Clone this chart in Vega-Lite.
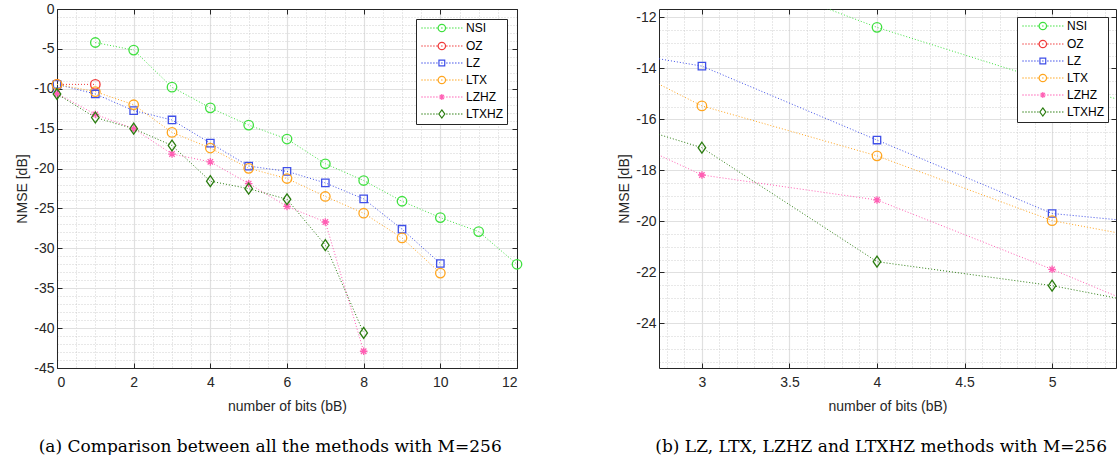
{
  "$schema": "https://vega.github.io/schema/vega-lite/v6.json",
  "padding": {"left": 15, "top": 2, "right": 0, "bottom": 0},
  "background": "white",
  "config": {
    "view": {"stroke": null},
    "font": "Liberation Sans",
    "axis": {"labelFont": "Liberation Sans", "titleFont": "Liberation Sans", "labelFontSize": 14, "titleFontSize": 14, "titleFontWeight": "normal", "labelColor": "#262626", "titleColor": "#262626", "domainColor": "#262626", "tickColor": "#262626"},
    "legend": {"title": null, "padding": 3, "strokeColor": "#262626", "fillColor": "white", "labelFontSize": 12, "labelFont": "Liberation Sans", "labelColor": "black", "symbolSize": 55, "symbolStrokeWidth": 1.2, "labelOffset": 35, "rowPadding": 4, "symbolOpacity": 1}
  },
  "datasets": {
    "d": [
      {"method": "NSI", "bits": 1, "nmse": -4.2},
      {"method": "NSI", "bits": 2, "nmse": -5.15},
      {"method": "NSI", "bits": 3, "nmse": -9.8},
      {"method": "NSI", "bits": 4, "nmse": -12.39},
      {"method": "NSI", "bits": 5, "nmse": -14.55},
      {"method": "NSI", "bits": 6, "nmse": -16.3},
      {"method": "NSI", "bits": 7, "nmse": -19.4},
      {"method": "NSI", "bits": 8, "nmse": -21.5},
      {"method": "NSI", "bits": 9, "nmse": -24.1},
      {"method": "NSI", "bits": 10, "nmse": -26.15},
      {"method": "NSI", "bits": 11, "nmse": -27.9},
      {"method": "NSI", "bits": 12, "nmse": -32.0},
      {"method": "OZ", "bits": 0, "nmse": -9.45},
      {"method": "OZ", "bits": 1, "nmse": -9.45},
      {"method": "LZ", "bits": 0, "nmse": -9.45},
      {"method": "LZ", "bits": 1, "nmse": -10.65},
      {"method": "LZ", "bits": 2, "nmse": -12.74},
      {"method": "LZ", "bits": 3, "nmse": -13.91},
      {"method": "LZ", "bits": 4, "nmse": -16.81},
      {"method": "LZ", "bits": 5, "nmse": -19.69},
      {"method": "LZ", "bits": 6, "nmse": -20.35},
      {"method": "LZ", "bits": 7, "nmse": -21.8},
      {"method": "LZ", "bits": 8, "nmse": -23.8},
      {"method": "LZ", "bits": 9, "nmse": -27.6},
      {"method": "LZ", "bits": 10, "nmse": -31.9},
      {"method": "LTX", "bits": 0, "nmse": -9.45},
      {"method": "LTX", "bits": 1, "nmse": -10.36},
      {"method": "LTX", "bits": 2, "nmse": -12.0},
      {"method": "LTX", "bits": 3, "nmse": -15.47},
      {"method": "LTX", "bits": 4, "nmse": -17.43},
      {"method": "LTX", "bits": 5, "nmse": -19.97},
      {"method": "LTX", "bits": 6, "nmse": -21.25},
      {"method": "LTX", "bits": 7, "nmse": -23.5},
      {"method": "LTX", "bits": 8, "nmse": -25.6},
      {"method": "LTX", "bits": 9, "nmse": -28.7},
      {"method": "LTX", "bits": 10, "nmse": -33.1},
      {"method": "LZHZ", "bits": 0, "nmse": -10.6},
      {"method": "LZHZ", "bits": 1, "nmse": -13.2},
      {"method": "LZHZ", "bits": 2, "nmse": -15.0},
      {"method": "LZHZ", "bits": 3, "nmse": -18.18},
      {"method": "LZHZ", "bits": 4, "nmse": -19.16},
      {"method": "LZHZ", "bits": 5, "nmse": -21.88},
      {"method": "LZHZ", "bits": 6, "nmse": -24.75},
      {"method": "LZHZ", "bits": 7, "nmse": -26.7},
      {"method": "LZHZ", "bits": 8, "nmse": -42.9},
      {"method": "LTXHZ", "bits": 0, "nmse": -10.65},
      {"method": "LTXHZ", "bits": 1, "nmse": -13.6},
      {"method": "LTXHZ", "bits": 2, "nmse": -15.0},
      {"method": "LTXHZ", "bits": 3, "nmse": -17.11},
      {"method": "LTXHZ", "bits": 4, "nmse": -21.58},
      {"method": "LTXHZ", "bits": 5, "nmse": -22.52},
      {"method": "LTXHZ", "bits": 6, "nmse": -23.85},
      {"method": "LTXHZ", "bits": 7, "nmse": -29.6},
      {"method": "LTXHZ", "bits": 8, "nmse": -40.6}
    ]
  },
  "data": {"name": "d"},
  "resolve": {"scale": {"color": "independent", "shape": "independent"}, "legend": {"color": "independent", "shape": "independent"}},
  "spacing": 72,
  "hconcat": [
    {
      "width": 460,
      "height": 359,
      "title": {"text": "(a) Comparison between all the methods with M=256", "orient": "bottom", "anchor": "middle", "frame": "bounds", "font": "DejaVu Serif", "fontSize": 17, "fontWeight": "normal", "color": "black", "offset": 26, "dx": -10},
      "resolve": {"axis": {"x": "independent", "y": "independent"}, "scale": {"color": "independent", "shape": "independent"}},
      "layer": [
        {
          "mark": {"type": "point", "opacity": 0},
          "encoding": {
            "x": {"field": "bits", "type": "quantitative", "scale": {"domain": [0, 12], "nice": false, "zero": false},
              "axis": {"orient": "bottom", "values": [0.5,1,1.5,2.5,3,3.5,4.5,5,5.5,6.5,7,7.5,8.5,9,9.5,10.5,11,11.5], "grid": true, "gridDash": [1, 2], "gridColor": "#c4c4c4", "gridWidth": 0.8, "labels": false, "ticks": false, "domain": false, "title": null}},
            "y": {"field": "nmse", "type": "quantitative", "scale": {"domain": [-45, 0], "nice": false, "zero": false},
              "axis": {"orient": "left", "values": [-44,-43,-42,-41,-39,-38,-37,-36,-34,-33,-32,-31,-29,-28,-27,-26,-24,-23,-22,-21,-19,-18,-17,-16,-14,-13,-12,-11,-9,-8,-7,-6,-4,-3,-2,-1], "grid": true, "gridDash": [1, 2], "gridColor": "#c4c4c4", "gridWidth": 0.8, "labels": false, "ticks": false, "domain": false, "title": null}}
          }
        },
        {
          "mark": {"type": "line", "strokeDash": [1, 2], "strokeWidth": 1},
          "encoding": {
            "x": {"field": "bits", "type": "quantitative", "scale": {"domain": [0, 12], "nice": false, "zero": false},
              "axis": {"orient": "bottom", "values": [0,2,4,6,8,10,12], "grid": true, "gridColor": "#e0e0e0", "gridWidth": 1.2, "tickSize": -5, "labelPadding": 12, "titlePadding": 10, "labelExpr": "datum.value + ''", "title": "number of bits (bB)"}},
            "y": {"field": "nmse", "type": "quantitative", "scale": {"domain": [-45, 0], "nice": false, "zero": false},
              "axis": {"orient": "left", "values": [-45,-40,-35,-30,-25,-20,-15,-10,-5,0], "grid": true, "gridColor": "#e0e0e0", "gridWidth": 1.2, "tickSize": -5, "labelPadding": 8, "titlePadding": 4, "labelExpr": "datum.value + ''", "title": "NMSE [dB]"}},
            "color": {"field": "method", "type": "nominal", "legend": null, "scale": {"domain": ["NSI","OZ","LZ","LTX","LZHZ","LTXHZ"], "range": ["#3fe03f","#f03a3a","#3f4fe8","#ffa51f","#ff5fb4","#2b7d10"]}},
            "detail": {"field": "method"}
          }
        },
        {
          "mark": {"type": "point", "filled": false, "strokeWidth": 1.3, "size": 90, "opacity": 1},
          "encoding": {
            "x": {"field": "bits", "type": "quantitative", "scale": {"domain": [0, 12], "nice": false, "zero": false},
              "axis": {"orient": "top", "values": [0,2,4,6,8,10,12], "grid": false, "labels": false, "tickSize": -5, "title": null}},
            "y": {"field": "nmse", "type": "quantitative", "scale": {"domain": [-45, 0], "nice": false, "zero": false},
              "axis": {"orient": "right", "values": [-45,-40,-35,-30,-25,-20,-15,-10,-5,0], "grid": false, "labels": false, "tickSize": -5, "title": null}},
            "color": {"field": "method", "type": "nominal", "legend": null, "scale": {"domain": ["NSI","OZ","LZ","LTX","LZHZ","LTXHZ"], "range": ["#3fe03f","#f03a3a","#3f4fe8","#ffa51f","#ff5fb4","#2b7d10"]}},
            "shape": {"field": "method", "type": "nominal", "legend": null, "scale": {"domain": ["NSI","OZ","LZ","LTX","LZHZ","LTXHZ"], "range": [
              "M1,0A1,1,0,1,1,-1,0A1,1,0,1,1,1,0",
              "M1,0A1,1,0,1,1,-1,0A1,1,0,1,1,1,0",
              "M-0.78,-0.78H0.78V0.78H-0.78Z",
              "M1,0A1,1,0,1,1,-1,0A1,1,0,1,1,1,0",
              "M-0.8,0H0.8M0,-0.8V0.8M-0.57,-0.57L0.57,0.57M-0.57,0.57L0.57,-0.57",
              "M0,-1.15L0.8,0L0,1.15L-0.8,0Z"]}}
          }
        },
        {
          "mark": {"type": "point", "filled": false, "opacity": 0},
          "encoding": {
            "x": {"field": "bits", "type": "quantitative", "scale": {"domain": [0, 12], "nice": false, "zero": false}, "axis": null},
            "y": {"field": "nmse", "type": "quantitative", "scale": {"domain": [-45, 0], "nice": false, "zero": false}, "axis": null},
            "color": {"field": "method", "type": "nominal", "scale": {"domain": ["NSI","OZ","LZ","LTX","LZHZ","LTXHZ"], "range": ["#3fe03f","#f03a3a","#3f4fe8","#ffa51f","#ff5fb4","#2b7d10"]},
              "legend": {"orient": "top-right", "offset": 10, "encode": {"symbols": {"update": {"opacity": {"value": 1}}}}}},
            "shape": {"field": "method", "type": "nominal", "scale": {"domain": ["NSI","OZ","LZ","LTX","LZHZ","LTXHZ"], "range": [
              "M-1,0h0.4M-0.2,0h0.4M0.6,0h0.4M1.4,0h0.4M2.2,0h0.4M3,0h0.4M5.7,0h0.4M6.5,0h0.4M7.3,0h0.4M8.1,0h0.4M8.9,0h0.4M9.7,0h0.4M4.34,0h0.4M5.54,0A1,1,0,1,1,3.54,0A1,1,0,1,1,5.54,0",
              "M-1,0h0.4M-0.2,0h0.4M0.6,0h0.4M1.4,0h0.4M2.2,0h0.4M3,0h0.4M5.7,0h0.4M6.5,0h0.4M7.3,0h0.4M8.1,0h0.4M8.9,0h0.4M9.7,0h0.4M4.34,0h0.4M5.54,0A1,1,0,1,1,3.54,0A1,1,0,1,1,5.54,0",
              "M-1,0h0.4M-0.2,0h0.4M0.6,0h0.4M1.4,0h0.4M2.2,0h0.4M3,0h0.4M5.7,0h0.4M6.5,0h0.4M7.3,0h0.4M8.1,0h0.4M8.9,0h0.4M9.7,0h0.4M4.34,0h0.4M3.76,-0.78H5.32V0.78H3.76Z",
              "M-1,0h0.4M-0.2,0h0.4M0.6,0h0.4M1.4,0h0.4M2.2,0h0.4M3,0h0.4M5.7,0h0.4M6.5,0h0.4M7.3,0h0.4M8.1,0h0.4M8.9,0h0.4M9.7,0h0.4M4.34,0h0.4M5.54,0A1,1,0,1,1,3.54,0A1,1,0,1,1,5.54,0",
              "M-1,0h0.4M-0.2,0h0.4M0.6,0h0.4M1.4,0h0.4M2.2,0h0.4M3,0h0.4M5.7,0h0.4M6.5,0h0.4M7.3,0h0.4M8.1,0h0.4M8.9,0h0.4M9.7,0h0.4M3.74,0H5.34M4.54,-0.8V0.8M3.97,-0.57L5.11,0.57M3.97,0.57L5.11,-0.57",
              "M-1,0h0.4M-0.2,0h0.4M0.6,0h0.4M1.4,0h0.4M2.2,0h0.4M3,0h0.4M5.7,0h0.4M6.5,0h0.4M7.3,0h0.4M8.1,0h0.4M8.9,0h0.4M9.7,0h0.4M4.54,-1.1L5.34,0L4.54,1.1L3.74,0Z"]},
              "legend": {"orient": "top-right", "offset": 10, "encode": {"symbols": {"update": {"opacity": {"value": 1}}}}}}
          }
        }
      ]
    },
    {
      "width": 457,
      "height": 359,
      "title": {"text": "(b) LZ, LTX, LZHZ and LTXHZ methods with M=256", "orient": "bottom", "anchor": "middle", "frame": "bounds", "font": "DejaVu Serif", "fontSize": 17, "fontWeight": "normal", "color": "black", "offset": 26, "dx": 14},
      "resolve": {"axis": {"x": "independent", "y": "independent"}, "scale": {"color": "independent", "shape": "independent"}},
      "layer": [
        {
          "mark": {"type": "point", "opacity": 0, "clip": true},
          "encoding": {
            "x": {"field": "bits", "type": "quantitative", "scale": {"domain": [2.755, 5.365], "nice": false, "zero": false},
              "axis": {"orient": "bottom", "values": [2.8,2.9,3.1,3.2,3.3,3.4,3.6,3.7,3.8,3.9,4.1,4.2,4.3,4.4,4.6,4.7,4.8,4.9,5.1,5.2,5.3], "grid": true, "gridDash": [1, 2], "gridColor": "#c4c4c4", "gridWidth": 0.8, "labels": false, "ticks": false, "domain": false, "title": null}},
            "y": {"field": "nmse", "type": "quantitative", "scale": {"domain": [-25.75, -11.67], "nice": false, "zero": false},
              "axis": {"orient": "left", "values": [-25.5,-25,-24.5,-23.5,-23,-22.5,-21.5,-21,-20.5,-19.5,-19,-18.5,-17.5,-17,-16.5,-15.5,-15,-14.5,-13.5,-13,-12.5], "grid": true, "gridDash": [1, 2], "gridColor": "#c4c4c4", "gridWidth": 0.8, "labels": false, "ticks": false, "domain": false, "title": null}}
          }
        },
        {
          "mark": {"type": "line", "strokeDash": [1, 2], "strokeWidth": 1, "clip": true},
          "encoding": {
            "x": {"field": "bits", "type": "quantitative", "scale": {"domain": [2.755, 5.365], "nice": false, "zero": false},
              "axis": {"orient": "bottom", "values": [3,3.5,4,4.5,5], "grid": true, "gridColor": "#e0e0e0", "gridWidth": 1.2, "tickSize": -5, "labelPadding": 12, "titlePadding": 10, "labelExpr": "datum.value + ''", "title": "number of bits (bB)"}},
            "y": {"field": "nmse", "type": "quantitative", "scale": {"domain": [-25.75, -11.67], "nice": false, "zero": false},
              "axis": {"orient": "left", "values": [-24,-22,-20,-18,-16,-14,-12], "grid": true, "gridColor": "#e0e0e0", "gridWidth": 1.2, "tickSize": -5, "labelPadding": 8, "titlePadding": 4, "labelExpr": "datum.value + ''", "title": "NMSE [dB]"}},
            "color": {"field": "method", "type": "nominal", "legend": null, "scale": {"domain": ["NSI","OZ","LZ","LTX","LZHZ","LTXHZ"], "range": ["#3fe03f","#f03a3a","#3f4fe8","#ffa51f","#ff5fb4","#2b7d10"]}},
            "detail": {"field": "method"}
          }
        },
        {
          "mark": {"type": "point", "filled": false, "strokeWidth": 1.3, "size": 90, "opacity": 1, "clip": true},
          "encoding": {
            "x": {"field": "bits", "type": "quantitative", "scale": {"domain": [2.755, 5.365], "nice": false, "zero": false},
              "axis": {"orient": "top", "values": [3,3.5,4,4.5,5], "grid": false, "labels": false, "tickSize": -5, "title": null}},
            "y": {"field": "nmse", "type": "quantitative", "scale": {"domain": [-25.75, -11.67], "nice": false, "zero": false},
              "axis": {"orient": "right", "values": [-24,-22,-20,-18,-16,-14,-12], "grid": false, "labels": false, "tickSize": -5, "title": null}},
            "color": {"field": "method", "type": "nominal", "legend": null, "scale": {"domain": ["NSI","OZ","LZ","LTX","LZHZ","LTXHZ"], "range": ["#3fe03f","#f03a3a","#3f4fe8","#ffa51f","#ff5fb4","#2b7d10"]}},
            "shape": {"field": "method", "type": "nominal", "legend": null, "scale": {"domain": ["NSI","OZ","LZ","LTX","LZHZ","LTXHZ"], "range": [
              "M1,0A1,1,0,1,1,-1,0A1,1,0,1,1,1,0",
              "M1,0A1,1,0,1,1,-1,0A1,1,0,1,1,1,0",
              "M-0.78,-0.78H0.78V0.78H-0.78Z",
              "M1,0A1,1,0,1,1,-1,0A1,1,0,1,1,1,0",
              "M-0.8,0H0.8M0,-0.8V0.8M-0.57,-0.57L0.57,0.57M-0.57,0.57L0.57,-0.57",
              "M0,-1.15L0.8,0L0,1.15L-0.8,0Z"]}}
          }
        },
        {
          "mark": {"type": "point", "filled": false, "opacity": 0, "clip": true},
          "encoding": {
            "x": {"field": "bits", "type": "quantitative", "scale": {"domain": [2.755, 5.365], "nice": false, "zero": false}, "axis": null},
            "y": {"field": "nmse", "type": "quantitative", "scale": {"domain": [-25.75, -11.67], "nice": false, "zero": false}, "axis": null},
            "color": {"field": "method", "type": "nominal", "scale": {"domain": ["NSI","OZ","LZ","LTX","LZHZ","LTXHZ"], "range": ["#3fe03f","#f03a3a","#3f4fe8","#ffa51f","#ff5fb4","#2b7d10"]},
              "legend": {"orient": "top-right", "offset": 8, "encode": {"symbols": {"update": {"opacity": {"value": 1}}}}}},
            "shape": {"field": "method", "type": "nominal", "scale": {"domain": ["NSI","OZ","LZ","LTX","LZHZ","LTXHZ"], "range": [
              "M-1,0h0.4M-0.2,0h0.4M0.6,0h0.4M1.4,0h0.4M2.2,0h0.4M3,0h0.4M5.7,0h0.4M6.5,0h0.4M7.3,0h0.4M8.1,0h0.4M8.9,0h0.4M9.7,0h0.4M4.34,0h0.4M5.54,0A1,1,0,1,1,3.54,0A1,1,0,1,1,5.54,0",
              "M-1,0h0.4M-0.2,0h0.4M0.6,0h0.4M1.4,0h0.4M2.2,0h0.4M3,0h0.4M5.7,0h0.4M6.5,0h0.4M7.3,0h0.4M8.1,0h0.4M8.9,0h0.4M9.7,0h0.4M4.34,0h0.4M5.54,0A1,1,0,1,1,3.54,0A1,1,0,1,1,5.54,0",
              "M-1,0h0.4M-0.2,0h0.4M0.6,0h0.4M1.4,0h0.4M2.2,0h0.4M3,0h0.4M5.7,0h0.4M6.5,0h0.4M7.3,0h0.4M8.1,0h0.4M8.9,0h0.4M9.7,0h0.4M4.34,0h0.4M3.76,-0.78H5.32V0.78H3.76Z",
              "M-1,0h0.4M-0.2,0h0.4M0.6,0h0.4M1.4,0h0.4M2.2,0h0.4M3,0h0.4M5.7,0h0.4M6.5,0h0.4M7.3,0h0.4M8.1,0h0.4M8.9,0h0.4M9.7,0h0.4M4.34,0h0.4M5.54,0A1,1,0,1,1,3.54,0A1,1,0,1,1,5.54,0",
              "M-1,0h0.4M-0.2,0h0.4M0.6,0h0.4M1.4,0h0.4M2.2,0h0.4M3,0h0.4M5.7,0h0.4M6.5,0h0.4M7.3,0h0.4M8.1,0h0.4M8.9,0h0.4M9.7,0h0.4M3.74,0H5.34M4.54,-0.8V0.8M3.97,-0.57L5.11,0.57M3.97,0.57L5.11,-0.57",
              "M-1,0h0.4M-0.2,0h0.4M0.6,0h0.4M1.4,0h0.4M2.2,0h0.4M3,0h0.4M5.7,0h0.4M6.5,0h0.4M7.3,0h0.4M8.1,0h0.4M8.9,0h0.4M9.7,0h0.4M4.54,-1.1L5.34,0L4.54,1.1L3.74,0Z"]},
              "legend": {"orient": "top-right", "offset": 8, "encode": {"symbols": {"update": {"opacity": {"value": 1}}}}}}
          }
        }
      ]
    }
  ]
}
